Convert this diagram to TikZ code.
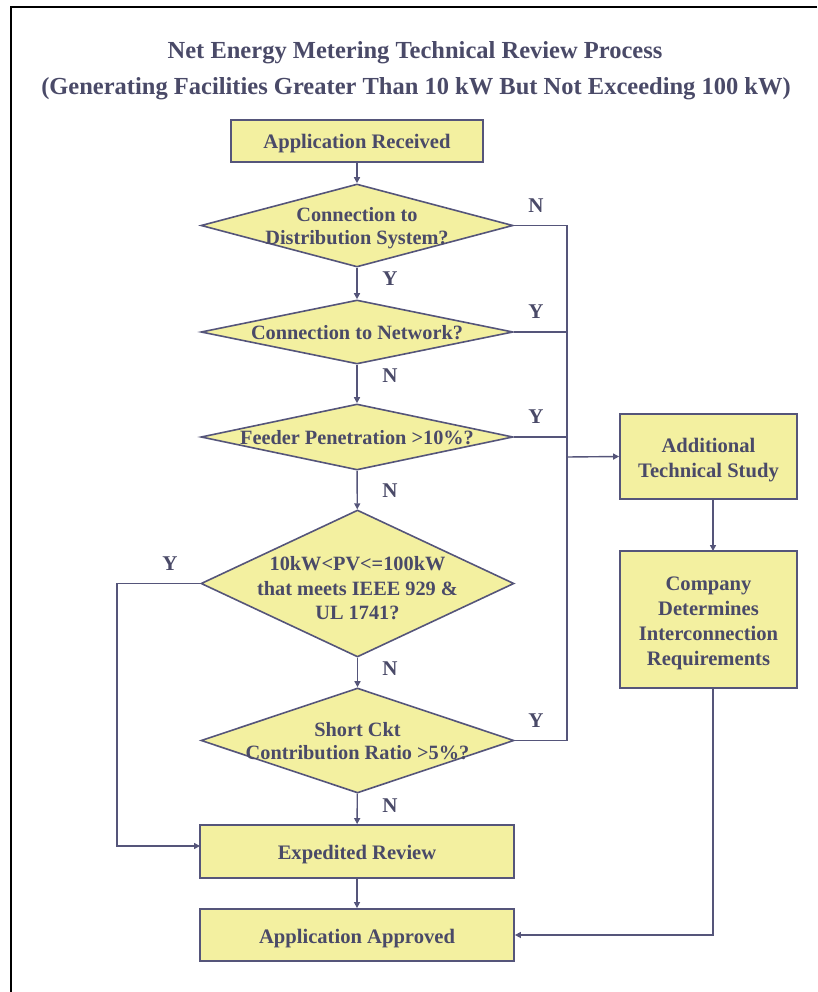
\documentclass[tikz,border=0pt]{standalone}
\usepackage{fontspec}
\setmainfont{Liberation Serif}
\usetikzlibrary{shapes.geometric,arrows.meta}
\definecolor{yfill}{HTML}{F3F0A0}
\definecolor{lc}{HTML}{55557A}
\definecolor{tc}{HTML}{4A4A68}
\tikzset{
  box/.style={rectangle, draw=lc, fill=yfill, line width=1.8pt, inner sep=0pt},
  btext/.style={font=\bfseries\fontsize{20.6}{25}\selectfont, text=tc, align=center, inner sep=0pt},
  dia/.style={diamond, draw=lc, fill=yfill, line width=1.6pt, inner sep=0pt},
  dtext/.style={font=\bfseries\fontsize{20.3}{23}\selectfont, text=tc, align=center, inner sep=0pt},
  conn/.style={draw=lc, line width=1.4pt},
  arr/.style={conn, -{Triangle[length=6pt,width=6pt]}},
  lbl/.style={font=\bfseries\fontsize{21}{24}\selectfont, text=tc, inner sep=0pt},
  ttl/.style={font=\bfseries\fontsize{24.5}{28}\selectfont, text=tc, inner sep=0pt}
}
\begin{document}
\begin{tikzpicture}[x=1pt,y=-1pt]
\useasboundingbox (0,0) rectangle (817,992);
\draw[black, line width=2.6pt] (817,7) -- (11,7) -- (11,992);

\node[ttl] (t1) at (415,52.5) {Net Energy Metering Technical Review Process};
\node[ttl] (t2) at (416,88.5) {(Generating Facilities Greater Than 10 kW But Not Exceeding 100 kW)};

\node[box, minimum width=252pt, minimum height=42pt] (b1) at (357,141) {};
\node[btext] (b1t) at (357,144) {Application Received};

\node[dia, minimum width=312pt, minimum height=83pt] (d1) at (357,225.5) {};
\node[dtext] (d1t) at (357,228.5) {Connection to\\Distribution System?};

\node[dia, minimum width=312pt, minimum height=64pt] (d2) at (357,332) {};
\node[dtext] (d2t) at (357,333) {Connection to Network?};

\node[dia, minimum width=312pt, minimum height=66pt] (d3) at (357,437) {};
\node[dtext] (d3t) at (357,438) {Feeder Penetration >10\%?};

\node[dia, minimum width=313pt, minimum height=147pt] (d4) at (357.5,583.5) {};
\node[dtext, font=\bfseries\fontsize{20.3}{24.5}\selectfont] (d4t) at (357.5,588.5) {10kW<PV<=100kW\\that meets IEEE 929 \&\\UL 1741?};

\node[dia, minimum width=313pt, minimum height=105pt] (d5) at (357.5,740.5) {};
\node[dtext] (d5t) at (357.5,741.5) {Short Ckt\\Contribution Ratio >5\%?};

\node[box, minimum width=314pt, minimum height=53pt] (er) at (357,851.5) {};
\node[btext] (ert) at (357,854.5) {Expedited Review};
\node[box, minimum width=314pt, minimum height=52pt] (aa) at (357,935) {};
\node[btext] (aat) at (357,938.5) {Application Approved};

\node[box, minimum width=177pt, minimum height=85pt] (ats) at (708.5,456.5) {};
\node[btext] (atst) at (708.5,460.5) {Additional\\Technical Study};
\node[box, minimum width=177pt, minimum height=137pt] (cdr) at (708.5,619.5) {};
\node[btext] (cdrt) at (708.5,623.5) {Company\\Determines\\Interconnection\\Requirements};

\coordinate (j1) at (567,225.5);
\coordinate (j2) at (567,332);
\coordinate (j3) at (567,437);
\coordinate (jA) at (567,457);
\coordinate (j5) at (567,740.5);
\coordinate (jL) at (117,583.5);
\coordinate (jE) at (200,846);
\coordinate (jT) at (713,499);
\coordinate (jC) at (713,551);

\draw[arr] (b1) -- (d1);
\draw[arr] (d1) -- (d2);
\draw[arr] (d2) -- (d3);
\draw[arr] (d3) -- (d4);
\draw[arr] (d4) -- (d5);
\draw[arr] (d5) -- (er);
\draw[arr] (er) -- (aa);

\draw[conn] (d1.east) -- (j1) -- (j5);
\draw[conn] (d2.east) -- (j2);
\draw[conn] (d3.east) -- (j3);
\draw[conn] (d5.east) -- (j5);
\draw[arr] (jA) -- (ats.west);
\draw[arr] (jT) -- (jC);
\draw[arr] (cdr.south -| jT) |- (aa.east);
\draw[arr] (d4.west) -- (jL) |- (jE);

\node[lbl] (n1) at (536,205.5) {N};
\node[lbl] (y1) at (390,278.5) {Y};
\node[lbl] (y2) at (536,311.5) {Y};
\node[lbl] (n2) at (390,375.5) {N};
\node[lbl] (y3) at (536,416.5) {Y};
\node[lbl] (n3) at (390,490.5) {N};
\node[lbl] (y4) at (170,563.5) {Y};
\node[lbl] (n4) at (390,668.5) {N};
\node[lbl] (y5) at (536,720.5) {Y};
\node[lbl] (n5) at (390,805.5) {N};
\end{tikzpicture}
\end{document}
